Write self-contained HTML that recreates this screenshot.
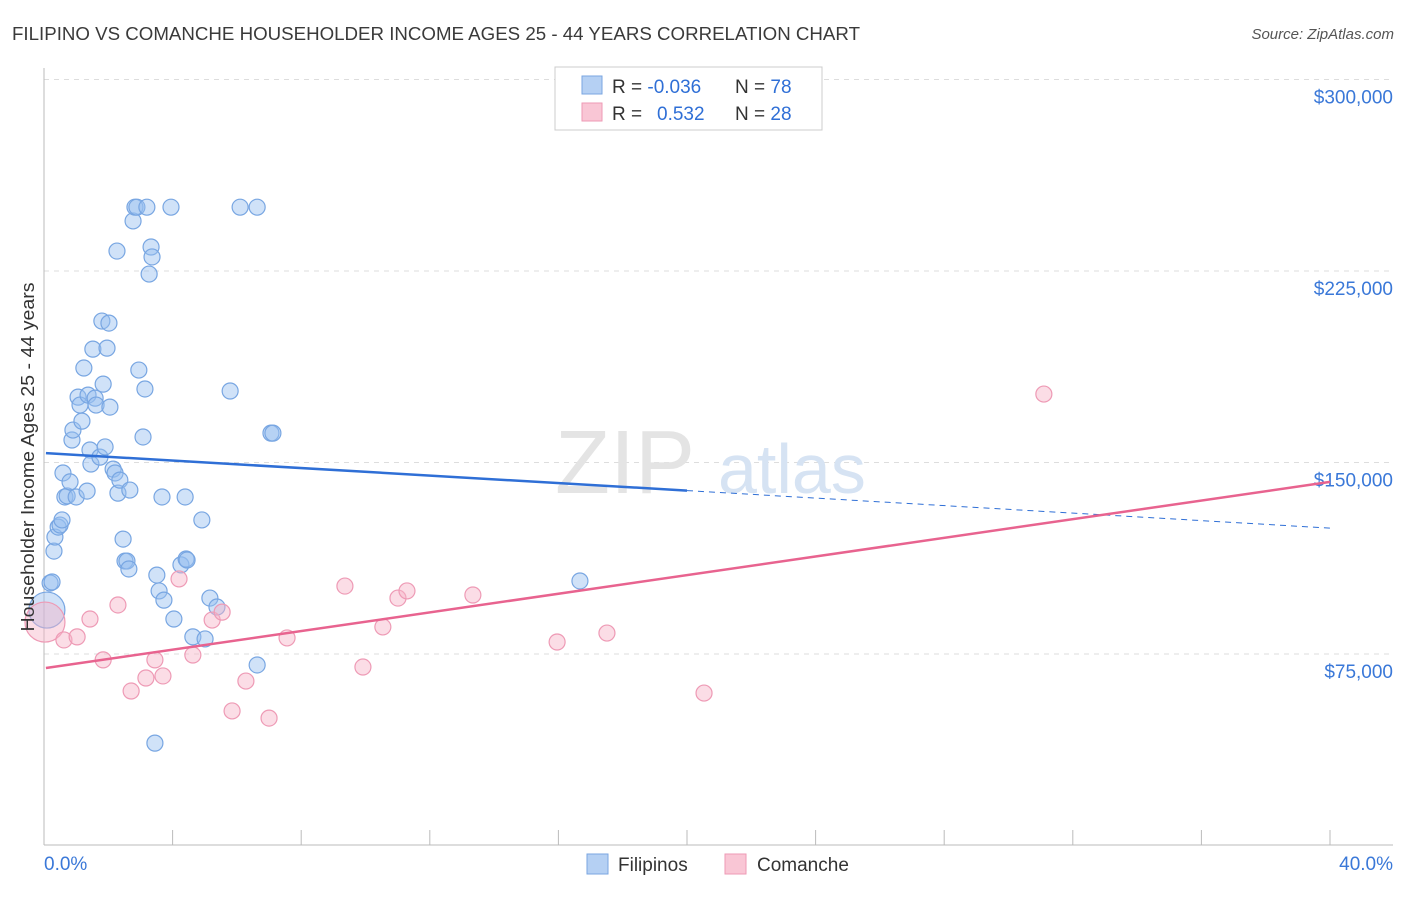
<!DOCTYPE html>
<html><head><meta charset="utf-8"><style>
body{margin:0;background:#fff;font-family:"Liberation Sans",sans-serif;}
svg text{font-family:"Liberation Sans",sans-serif;}
</style></head><body>
<svg width="1406" height="892">
<text x="12" y="40" font-size="18" fill="#3a3a3a" textLength="848" lengthAdjust="spacingAndGlyphs">FILIPINO VS COMANCHE HOUSEHOLDER INCOME AGES 25 - 44 YEARS CORRELATION CHART</text>
<text x="1394" y="39" font-size="15" fill="#555" font-style="italic" text-anchor="end">Source: ZipAtlas.com</text>
<g id="grid"></g>
<text x="555" y="493" font-size="90" font-family="Liberation Serif,serif" fill="#e4e4e4">ZIP</text>
<text x="718" y="493" font-size="70" fill="#d6e3f3">atlas</text>
<g id="pts"></g>
<g id="lines"></g>
<text transform="translate(34,457) rotate(-90)" font-size="18" fill="#333" text-anchor="middle" textLength="349" lengthAdjust="spacingAndGlyphs">Householder Income Ages 25 - 44 years</text>
<g>
<rect x="555" y="67" width="267" height="63" fill="#fff" stroke="#ccc"/>
<rect x="582" y="76" width="20" height="18" fill="#b5d0f3" stroke="#7aa6e0"/>
<rect x="582" y="103" width="20" height="18" fill="#f9c6d5" stroke="#ee9ab5"/>
<text x="612" y="93" font-size="19" fill="#333">R = <tspan fill="#2f6fd6">-0.036</tspan></text>
<text x="735" y="93" font-size="19" fill="#333">N = <tspan fill="#2f6fd6">78</tspan></text>
<text x="612" y="120" font-size="19" fill="#333">R = <tspan fill="#2f6fd6" x="657">0.532</tspan></text>
<text x="735" y="120" font-size="19" fill="#333">N = <tspan fill="#2f6fd6">28</tspan></text>
</g>
<g>
<rect x="587" y="854" width="21" height="20" fill="#b5d0f3" stroke="#7aa6e0"/>
<text x="618" y="871" font-size="19" fill="#333">Filipinos</text>
<rect x="725" y="854" width="21" height="20" fill="#f9c6d5" stroke="#ee9ab5"/>
<text x="757" y="871" font-size="19" fill="#333">Comanche</text>
</g>
</svg>
<script>
const yTicks=[75000,150000,225000,300000];
const yTickLabels=["$75,000","$150,000","$225,000","$300,000"];
const xTickLabels=["0.0%","40.0%"];
const blueX=[0.09,0.19,0.25,0.31,0.34,0.44,0.5,0.56,0.59,0.65,0.72,0.81,0.87,0.9,1.0,1.06,1.12,1.18,1.24,1.34,1.37,1.43,1.46,1.52,1.59,1.62,1.74,1.8,1.84,1.9,1.96,2.02,2.05,2.15,2.21,2.27,2.3,2.36,2.46,2.52,2.58,2.64,2.67,2.77,2.83,2.89,2.95,3.08,3.14,3.2,3.27,3.33,3.36,3.45,3.51,3.58,3.67,3.73,3.95,4.04,4.26,4.39,4.42,4.45,4.63,4.91,5.01,5.16,5.38,5.79,6.1,6.63,6.63,7.06,7.12,16.67];
const blueY=[92.2,102.8,103.2,115.3,120.8,124.7,125.5,127.5,145.9,136.5,136.9,142.4,158.8,162.7,136.5,175.6,172.5,166.2,187.0,138.8,176.4,154.9,149.4,194.4,175.2,172.5,152.1,205.4,180.7,156.1,194.8,204.6,171.7,147.4,145.9,232.8,138.0,143.1,120.0,111.4,111.4,108.3,139.2,244.6,250,250,186.2,160.0,178.8,250,223.8,234.4,230.5,40.1,105.9,99.7,136.5,96.1,250,88.7,109.9,136.5,112.2,111.8,81.7,127.5,80.9,96.9,93.4,178.0,250,250,70.7,161.5,161.5,103.6];
const pinkX=[0.03,0.62,1.03,1.43,1.84,2.3,2.71,3.17,3.45,3.7,4.2,4.63,5.23,5.54,5.85,6.28,7.0,7.56,9.36,9.92,10.54,11.01,11.29,13.34,15.96,17.51,20.53,31.1];
const pinkY=[87.5,80.5,81.7,88.7,72.7,94.2,60.5,65.6,72.7,66.4,104.4,74.6,88.3,91.4,52.7,64.4,49.9,81.3,101.6,69.9,85.6,96.9,99.7,98.1,79.7,83.2,59.7,176.8];
const blueTrend=[153.7,124.3];
const pinkTrend=[69.5,142.4];
const NS="http://www.w3.org/2000/svg";
const X=p=>44+p*32.15;
const Y=v=>654-(v-75000)*191.5/75000;
function mk(t,a,parent){const e=document.createElementNS(NS,t);for(const k in a)e.setAttribute(k,a[k]);parent.appendChild(e);return e;}
const g=document.getElementById('grid');
yTicks.forEach((v,i)=>{
 const l=mk('line',{x1:44,x2:1393,y1:Y(v),y2:Y(v),stroke:'#ddd','stroke-dasharray':'5,5'},g);
 
 
 const t=mk('text',{x:1393,y:Y(v)+24,'font-size':19,fill:'#3a78d8','text-anchor':'end'},g);
 t.textContent=yTickLabels[i];
 
 
});
const ax=mk('line',{x1:44,x2:1393,y1:845,y2:845,stroke:'#bbb'},g);


const ay=mk('line',{x1:44,x2:44,y1:68,y2:845,stroke:'#bbb'},g);


for(let i=1;i<=10;i++){const t=mk('line',{x1:X(i*4),x2:X(i*4),y1:830,y2:845,stroke:'#bbb'},g);
 
 }
[[0,'start',44],[1,'end',1393]].forEach(([i,a,x])=>{const t=mk('text',{x:x,y:870,'font-size':19,fill:'#3a78d8','text-anchor':a},g);t.textContent=xTickLabels[i];
 
 });
const pg=document.getElementById('pts');
blueX.forEach((p,i)=>{const c=mk('circle',{cx:X(p),cy:Y(blueY[i]*1000),r:i==0?18:8,fill:'rgba(150,190,240,0.45)',stroke:'#78a6e2','stroke-width':1.2},pg);
 
 });
pinkX.forEach((p,i)=>{const c=mk('circle',{cx:X(p),cy:Y(pinkY[i]*1000),r:i==0?20:8,fill:'rgba(246,180,200,0.45)',stroke:'#ee9ab5','stroke-width':1.2},pg);
 
 });
const lg=document.getElementById('lines');
const bAt=p=>blueTrend[0]+(blueTrend[1]-blueTrend[0])*p/40;
const l1=mk('line',{x1:X(0.06),y1:Y(bAt(0.06)*1000),x2:X(20),y2:Y(bAt(20)*1000),stroke:'#2f6fd6','stroke-width':2.5},lg);


const l2=mk('line',{x1:X(20),y1:Y(bAt(20)*1000),x2:X(40),y2:Y(bAt(40)*1000),stroke:'#2f6fd6','stroke-width':1,'stroke-dasharray':'6,5'},lg);


const l3=mk('line',{x1:X(0.06),y1:Y(pinkTrend[0]*1000),x2:X(40),y2:Y(pinkTrend[1]*1000),stroke:'#e8638f','stroke-width':2.5},lg);


</script>
</body></html>
